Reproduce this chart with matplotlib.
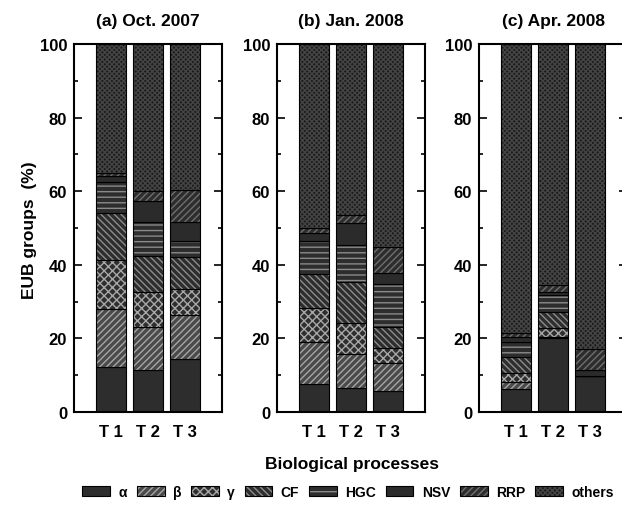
import matplotlib
matplotlib.use("Agg")
import matplotlib.pyplot as plt
from matplotlib.patches import Patch
from matplotlib.ticker import MultipleLocator

plt.rcParams["font.family"] = ["Liberation Sans", "DejaVu Sans"]
plt.rcParams["font.weight"] = "bold"
plt.rcParams["hatch.linewidth"] = 1.0

# data (percent of EUB reads)
groups = ["α", "β", "γ", "CF", "HGC", "NSV", "RRP", "others"]
samples = ["T 1", "T 2", "T 3"]
panel_titles = ["(a) Oct. 2007", "(b) Jan. 2008", "(c) Apr. 2008"]

oct_2007 = {
    "α": [12.1, 11.5, 14.4],
    "β": [15.9, 11.7, 12.0],
    "γ": [13.3, 9.3, 7.0],
    "CF": [12.7, 10.0, 8.8],
    "HGC": [8.6, 9.2, 4.2],
    "NSV": [1.6, 5.7, 5.1],
    "RRP": [0.7, 2.7, 8.8],
    "others": [35.1, 39.9, 39.7],
}
jan_2008 = {
    "α": [7.6, 6.4, 5.7],
    "β": [11.3, 9.4, 7.5],
    "γ": [9.3, 8.4, 4.3],
    "CF": [9.3, 11.2, 5.5],
    "HGC": [9.1, 10.0, 11.8],
    "NSV": [2.0, 6.0, 3.0],
    "RRP": [1.3, 2.1, 7.0],
    "others": [50.1, 46.5, 55.2],
}
apr_2008 = {
    "α": [6.2, 20.0, 9.8],
    "β": [2.0, 0.5, 0.0],
    "γ": [2.3, 2.2, 0.0],
    "CF": [4.5, 4.4, 0.0],
    "HGC": [3.9, 4.8, 0.0],
    "NSV": [1.4, 0.6, 1.7],
    "RRP": [1.3, 1.9, 5.6],
    "others": [78.4, 65.6, 82.9],
}
panels = [oct_2007, jan_2008, apr_2008]

# face colour, hatch colour, hatch pattern per group
styles = {
    "α": ("#2d2d2d", "#2d2d2d", None),
    "β": ("#4a4a4a", "#a6a6a6", "/////"),
    "γ": ("#2e2e2e", "#a8a8a8", "xxxx"),
    "CF": ("#2d2d2d", "#8c8c8c", "\\\\\\\\\\"),
    "HGC": ("#2d2d2d", "#8a8a8a", "---"),
    "NSV": ("#2b2b2b", "#2b2b2b", None),
    "RRP": ("#2d2d2d", "#6e6e6e", "/////"),
    "others": ("#1b1b1b", "#444444", "xxxxxxx"),
}

fig = plt.figure(figsize=(6.22, 5.06), dpi=100)
lefts = [74, 277, 479]
x = [1, 2, 3]

for left, data, title in zip(lefts, panels, panel_titles):
    ax = fig.add_axes([left / 622, 93 / 506, 148 / 622, 368 / 506])
    bottom = [0.0, 0.0, 0.0]
    for g in groups:
        face, hcol, hatch = styles[g]
        vals = data[g]
        ax.bar(x, vals, width=0.83, bottom=bottom, color=face, edgecolor=hcol,
               hatch=hatch, linewidth=0)
        ax.bar(x, vals, width=0.83, bottom=bottom, fill=False, edgecolor="black",
               linewidth=0.8)
        bottom = [b + v for b, v in zip(bottom, vals)]

    ax.set_xlim(0, 4)
    ax.set_ylim(0, 100)
    ax.set_xticks(x)
    ax.set_xticklabels(samples, fontsize=12, fontweight="bold")
    ax.tick_params(axis="x", length=0, pad=9)
    ax.yaxis.set_major_locator(MultipleLocator(20))
    ax.yaxis.set_minor_locator(MultipleLocator(10))
    ax.tick_params(axis="y", which="both", direction="in", right=True,
                   labelsize=12, width=1.2, pad=5)
    ax.tick_params(axis="y", which="major", length=6)
    ax.tick_params(axis="y", which="minor", length=3)
    for lbl in ax.get_yticklabels():
        lbl.set_fontweight("bold")
    for s in ax.spines.values():
        s.set_linewidth(1.5)
    ax.set_title(title, fontsize=12.5, fontweight="bold", pad=14)

fig.text(30 / 622, 1 - 230 / 506, "EUB groups  (%)", rotation=90, ha="center",
         va="center", fontsize=12.5, fontweight="bold")
fig.text(352 / 622, 1 - 465 / 506, "Biological processes", ha="center",
         va="center", fontsize=12.5, fontweight="bold")

handles = []
for g in groups:
    face, hcol, hatch = styles[g]
    handles.append((Patch(facecolor=face, edgecolor=hcol, hatch=hatch, linewidth=0),
                    Patch(fill=False, edgecolor="black", linewidth=0.8)))
fig.legend(handles, groups, ncol=8, loc="center",
           bbox_to_anchor=(348 / 622, 1 - 493 / 506), frameon=False,
           prop={"size": 10, "weight": "bold"}, handlelength=2.0,
           handleheight=0.8, handletextpad=0.6, columnspacing=0.7)

fig.savefig("out.png", dpi=100)
